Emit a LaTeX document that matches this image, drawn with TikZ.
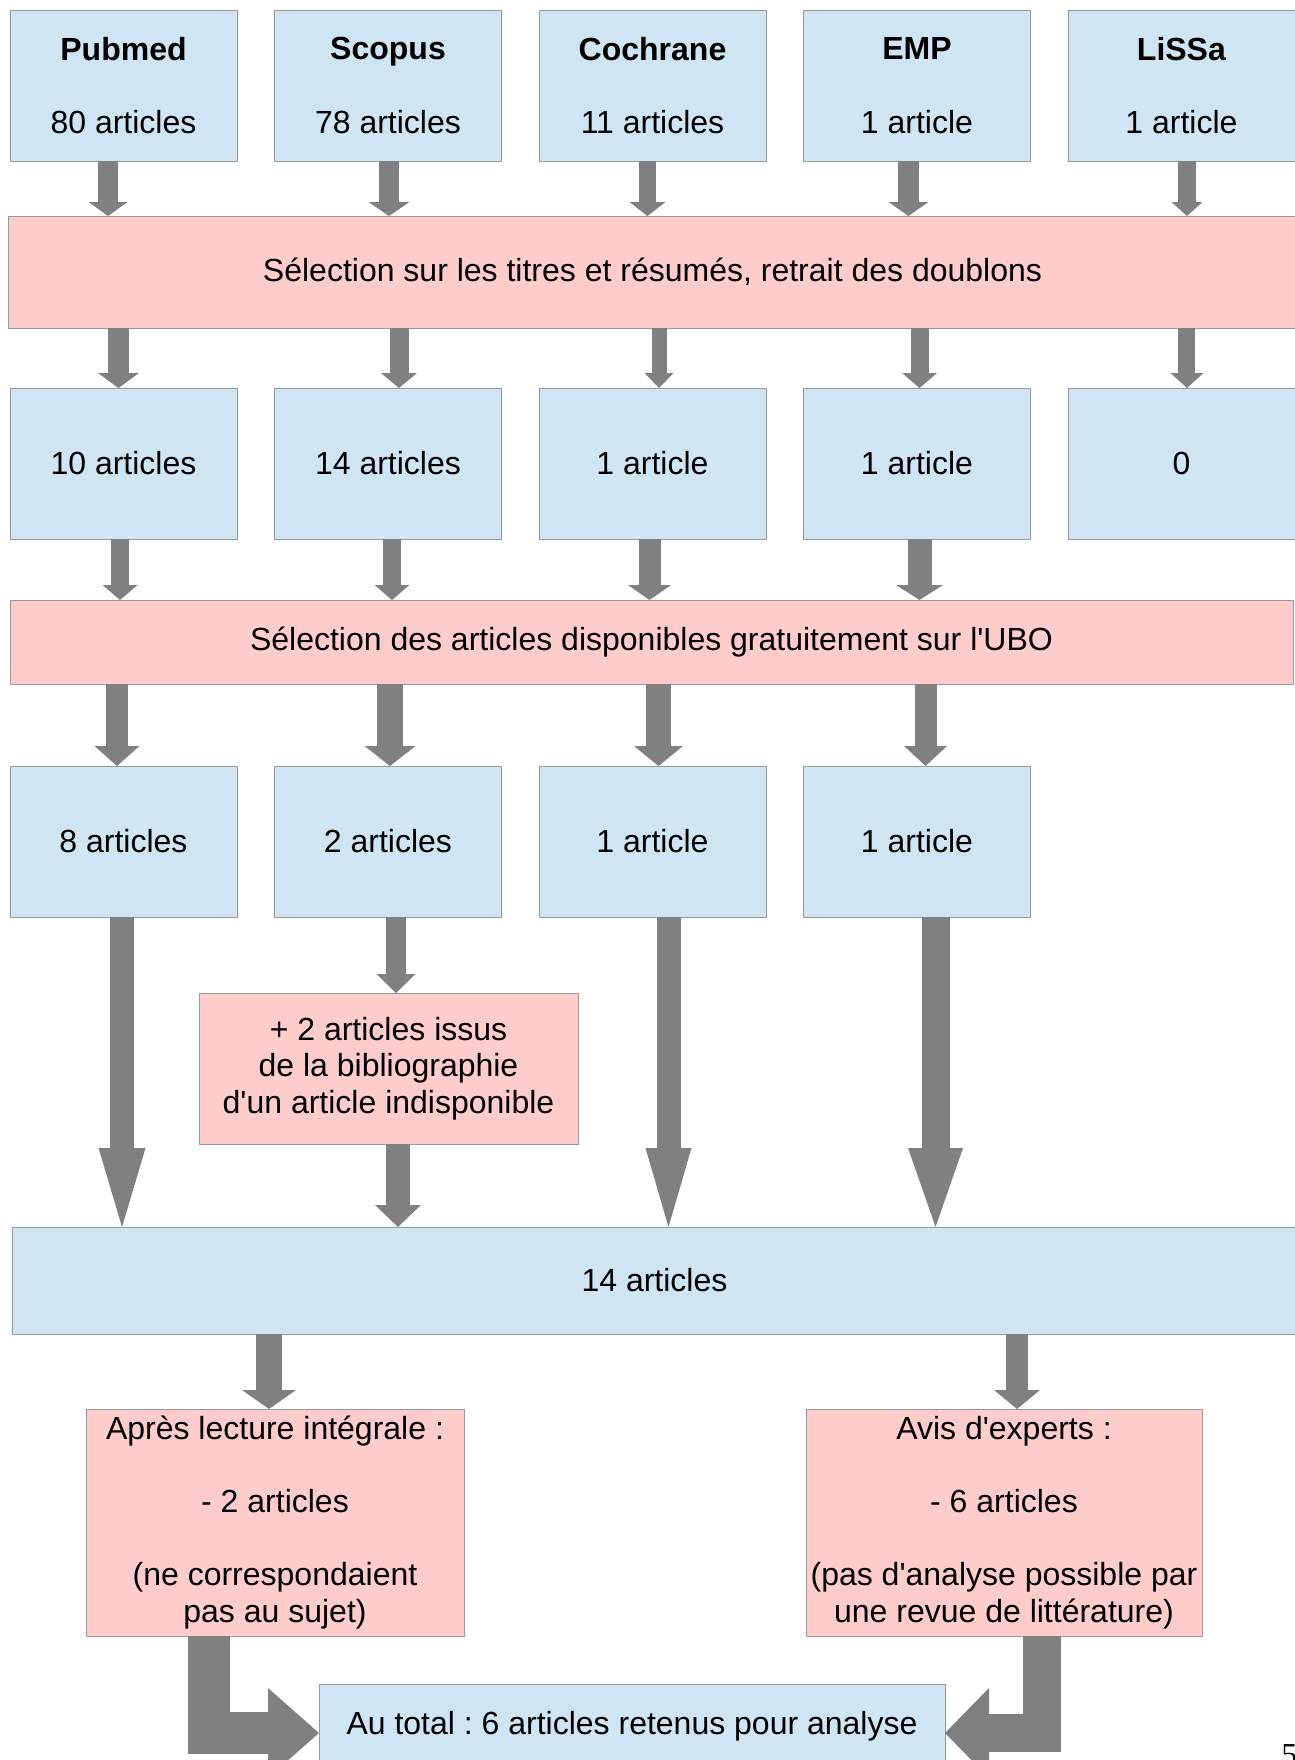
\documentclass[tikz,border=0pt]{standalone}
\usepackage{fontspec}
\newfontfamily\arialfont{Liberation Sans}
\newfontfamily\pagenumfont{Liberation Serif}
\usepackage{xcolor}
\usepackage{tikz}
\usetikzlibrary{arrows.meta}
\definecolor{boxblue}{RGB}{207,229,243}
\definecolor{boxpink}{RGB}{255,204,204}
\definecolor{boxline}{RGB}{153,153,153}
\definecolor{arrowgray}{RGB}{128,128,128}
\frenchspacing

\begin{document}
\begin{tikzpicture}[x=0.75pt,y=0.75pt,yscale=-1,xscale=1,
  font=\arialfont\fontsize{24}{27.5}\selectfont,
  bluebox/.style={draw=boxline,line width=0.75pt,fill=boxblue,inner sep=0pt,outer sep=0pt,align=center,anchor=north west},
  pinkbox/.style={bluebox,fill=boxpink},
  srcbox/.style={bluebox,minimum width=170.25pt,minimum height=113.25pt},
  fleche/.style n args={3}{draw=arrowgray,line width=#1,line join=miter,-{Triangle[width=#2,length=#3,line width=0pt,fill=arrowgray]}}]

\useasboundingbox (0,0) rectangle (1295,1760);
\clip (0,0) rectangle (1295,1760);



\draw (10,10) node [srcbox] (pub) {\textbf{Pubmed}\\[27.5pt]80 articles};

\draw (274.5,10) node [srcbox] (sco) {\textbf{Scopus}\\[27.5pt]78 articles};

\draw (539,10) node [srcbox] (coc) {\textbf{Cochrane}\\[27.5pt]11 articles};

\draw (803.5,10) node [srcbox] (emp) {\textbf{EMP}\\[27.5pt]1 article};

\draw (1068,10) node [srcbox] (lis) {\textbf{LiSSa}\\[27.5pt]1 article};

\draw (8,216) node [pinkbox,minimum width=966.75pt,minimum height=84pt] (titres) {S\'election sur les titres et r\'esum\'es, retrait des doublons};

\draw (10,388) node [srcbox] (pubB) {10 articles};

\draw (274.5,388) node [srcbox] (scoB) {14 articles};

\draw (539,388) node [srcbox] (cocB) {1 article};

\draw (803.5,388) node [srcbox] (empB) {1 article};

\draw (1068,388) node [srcbox] (lisB) {0};

\draw (10,600) node [pinkbox,minimum width=962.25pt,minimum height=63pt] (ubo) {S\'election des articles disponibles gratuitement sur l'UBO};

\draw (10,766) node [srcbox] (pubC) {8 articles};

\draw (274.5,766) node [srcbox] (scoC) {2 articles};

\draw (539,766) node [srcbox] (cocC) {1 article};

\draw (803.5,766) node [srcbox] (empC) {1 article};

\draw (199,993) node [pinkbox,minimum width=284.25pt,minimum height=113.25pt] (biblio) {+ 2 articles issus\\de la bibliographie\\d'un article indisponible};

\draw (12,1227) node [bluebox,minimum width=963.75pt,minimum height=80.25pt] (quatorze) {14 articles};

\draw (86,1409) node [pinkbox,minimum width=283.5pt,minimum height=170.25pt] (lecture) {Apr\`es lecture int\'egrale :\\[27.5pt]- 2 articles\\[27.5pt](ne correspondaient\\pas au sujet)};

\draw (806,1409) node [pinkbox,minimum width=297pt,minimum height=170.25pt] (experts) {Avis d'experts :\\[27.5pt]- 6 articles\\[27.5pt](pas d'analyse possible par\\une revue de litt\'erature)};

\draw (319,1684) node [bluebox,minimum width=469.5pt,minimum height=63pt] (total) {Au total : 6 articles retenus pour analyse};

\draw (1281,1744) node [anchor=north west,inner sep=0pt,font=\pagenumfont\fontsize{24}{24}\selectfont] (pagenum) {5};



\draw [fleche={15pt}{29.25pt}{10.5pt}] ([xshift=-11.6pt]pub.south) -- ([xshift=-11.6pt]pub.south |- titres.north);

\draw [fleche={15pt}{30.75pt}{10.5pt}] ([xshift=0.75pt]sco.south) -- ([xshift=0.75pt]sco.south |- titres.north);

\draw [fleche={12.75pt}{27pt}{10.5pt}] ([xshift=-3.75pt]coc.south) -- ([xshift=-3.75pt]coc.south |- titres.north);

\draw [fleche={15.75pt}{30pt}{10.5pt}] ([xshift=-6.4pt]emp.south) -- ([xshift=-6.4pt]emp.south |- titres.north);

\draw [fleche={13.5pt}{23.25pt}{10.5pt}] ([xshift=4.1pt]lis.south) -- ([xshift=4.1pt]lis.south |- titres.north);

\draw [fleche={15.75pt}{30.75pt}{11.25pt}] ([xshift=-3.75pt]pubB.north |- titres.south) -- ([xshift=-3.75pt]pubB.north);

\draw [fleche={14.25pt}{27pt}{11.25pt}] ([xshift=8.25pt]scoB.north |- titres.south) -- ([xshift=8.25pt]scoB.north);

\draw [fleche={11.25pt}{21.75pt}{11.25pt}] ([xshift=4.9pt]cocB.north |- titres.south) -- ([xshift=4.9pt]cocB.north);

\draw [fleche={13.5pt}{26.25pt}{11.25pt}] ([xshift=1.9pt]empB.north |- titres.south) -- ([xshift=1.9pt]empB.north);

\draw [fleche={12.75pt}{24.75pt}{11.25pt}] ([xshift=4.1pt]lisB.north |- titres.south) -- ([xshift=4.1pt]lisB.north);

\draw [fleche={13.5pt}{26.25pt}{11.25pt}] ([xshift=-2.6pt]pubB.south) -- ([xshift=-2.6pt]pubB.south |- ubo.north);

\draw [fleche={13.5pt}{26.25pt}{11.25pt}] ([xshift=3pt]scoB.south) -- ([xshift=3pt]scoB.south |- ubo.north);

\draw [fleche={16.5pt}{32.25pt}{11.25pt}] ([xshift=-2.25pt]cocB.south) -- ([xshift=-2.25pt]cocB.south |- ubo.north);

\draw [fleche={18pt}{35.25pt}{11.25pt}] ([xshift=1.9pt]empB.south) -- ([xshift=1.9pt]empB.south |- ubo.north);

\draw [fleche={16.5pt}{33.75pt}{15pt}] ([xshift=-4.9pt]pubC.north |- ubo.south) -- ([xshift=-4.9pt]pubC.north);

\draw [fleche={19.5pt}{38.25pt}{15pt}] ([xshift=1.5pt]scoC.north |- ubo.south) -- ([xshift=1.5pt]scoC.north);

\draw [fleche={18.75pt}{36.75pt}{15pt}] ([xshift=4.5pt]cocC.north |- ubo.south) -- ([xshift=4.5pt]cocC.north);

\draw [fleche={16.5pt}{32.25pt}{15pt}] ([xshift=6.4pt]empC.north |- ubo.south) -- ([xshift=6.4pt]empC.north);

\draw [fleche={18pt}{35.25pt}{59.25pt}] ([xshift=-1.1pt]pubC.south) -- ([xshift=-1.1pt]pubC.south |- quatorze.north);

\draw [fleche={15pt}{29.25pt}{14.25pt}] ([xshift=6pt]scoC.south) -- ([xshift=6pt]scoC.south |- biblio.north);

\draw [fleche={18pt}{34.5pt}{16.5pt}] ([xshift=7.1pt]biblio.south) -- ([xshift=7.1pt]biblio.south |- quatorze.north);

\draw [fleche={18pt}{34.5pt}{59.25pt}] ([xshift=12pt]cocC.south) -- ([xshift=12pt]cocC.south |- quatorze.north);

\draw [fleche={21pt}{41.25pt}{59.25pt}] ([xshift=13.9pt]empC.south) -- ([xshift=13.9pt]empC.south |- quatorze.north);

\draw [fleche={19.5pt}{40.5pt}{14.25pt}] ([xshift=-4.5pt]lecture.north |- quatorze.south) -- ([xshift=-4.5pt]lecture.north);

\draw [fleche={16.5pt}{34.5pt}{14.25pt}] ([xshift=9.75pt]experts.north |- quatorze.south) -- ([xshift=9.75pt]experts.north);

\draw [fleche={31.5pt}{67.5pt}{38.25pt}] ([xshift=-49.5pt]lecture.south) |- ([yshift=5.25pt]total.west);

\draw [fleche={28.5pt}{67.5pt}{33pt}] ([xshift=28.5pt]experts.south) |- ([yshift=5.25pt]total.east);


\end{tikzpicture}
\end{document}
